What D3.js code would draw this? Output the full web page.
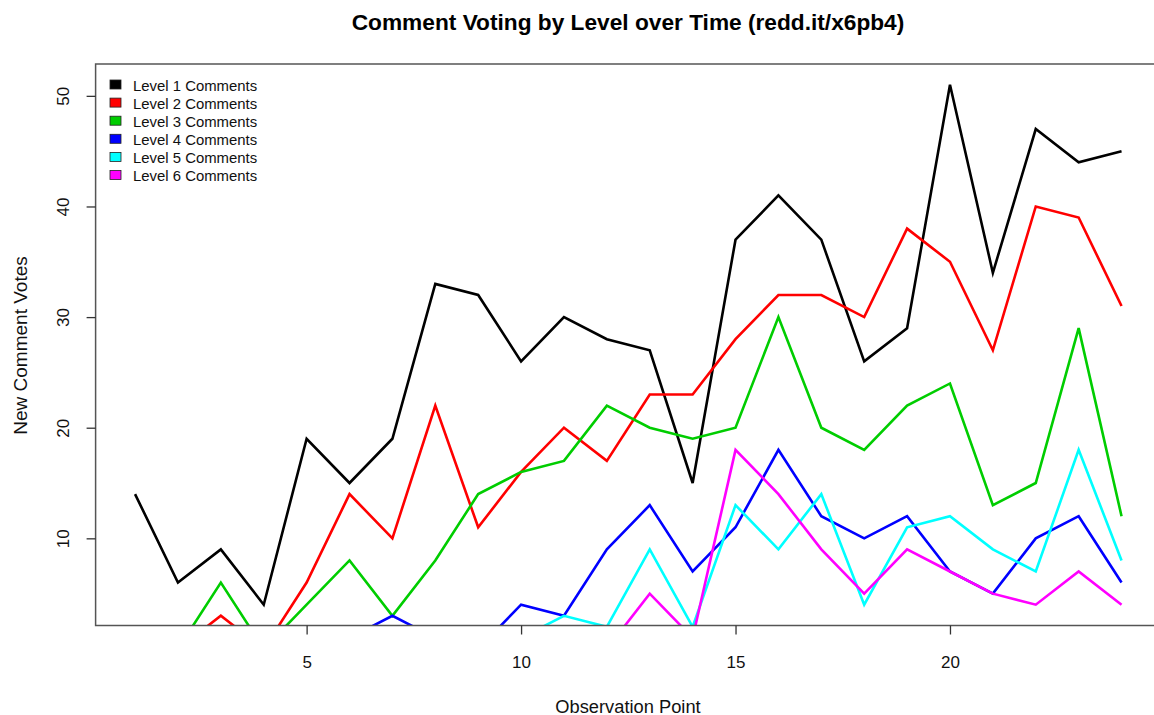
<!DOCTYPE html>
<html>
<head>
<meta charset="utf-8">
<script src="https://cdn.jsdelivr.net/npm/d3@7"></script>
<style>
  body { margin: 0; background: #fff; }
  svg { font-family: "Liberation Sans", Arial, sans-serif; display: block; }
</style>
</head>
<body>
<svg id="chart" width="1154" height="715"></svg>
<script>
// observation points 1..24
const observations = d3.range(1, 25);

const levelNames = ["Level 1 Comments", "Level 2 Comments", "Level 3 Comments",
                    "Level 4 Comments", "Level 5 Comments", "Level 6 Comments"];
const levelColors = ["#000000", "#ff0000", "#00cd00", "#0000ff", "#00ffff", "#ff00ff"];

// values (anything under the axis is clipped there anyway)
const level1 = [14, 6, 9, 4, 19, 15, 19, 33, 32, 26, 30, 28, 27, 15, 37, 41, 37, 26, 29, 51, 34, 47, 44, 45];
const level2 = [0, 0, 3, 0, 6, 14, 10, 22, 11, 16, 20, 17, 23, 23, 28, 32, 32, 30, 38, 35, 27, 40, 39, 31];
const level3 = [0, 0, 6, 0, 4, 8, 3, 8, 14, 16, 17, 22, 20, 19, 20, 30, 20, 18, 22, 24, 13, 15, 29, 12];
const level4 = [0, 0, 0, 0, 0, 1, 3, 1, 0, 4, 3, 9, 13, 7, 11, 18, 12, 10, 12, 7, 5, 10, 12, 6];
const level5 = [0, 0, 0, 0, 0, 0, 0, 0, 0, 1, 3, 2, 9, 2, 13, 9, 14, 4, 11, 12, 9, 7, 18, 8];
const level6 = [0, 0, 0, 0, 0, 0, 0, 0, 0, 0, 0, 0, 5, 1, 18, 14, 9, 5, 9, 7, 5, 4, 7, 4];

const allLevels = [level1, level2, level3, level4, level5, level6];

const xTicks = [5, 10, 15, 20];
const yTicks = [10, 20, 30, 40, 50];

// plot region (R base graphics, right edge runs past the picture)
const plotLeft = 95.6, plotRight = 1161, plotTop = 64, plotBottom = 625.5;

const svg = d3.select("#chart");

// R style 4% padding: x from range of obs, y from range of level 1
const xExt = d3.extent(observations);
const xPad = (xExt[1] - xExt[0]) * 0.04;
const yExt = d3.extent(level1);
const yPad = (yExt[1] - yExt[0]) * 0.04;

const xScale = d3.scaleLinear().domain([xExt[0] - xPad, xExt[1] + xPad]).range([plotLeft, plotRight]);
const yScale = d3.scaleLinear().domain([yExt[0] - yPad, yExt[1] + yPad]).range([plotBottom, plotTop]);

svg.append("clipPath").attr("id", "plotClip")
  .append("rect")
  .attr("x", plotLeft).attr("y", plotTop)
  .attr("width", plotRight - plotLeft).attr("height", plotBottom - plotTop);

const line = d3.line()
  .x((d, i) => xScale(observations[i]))
  .y(d => yScale(d));

const lines = svg.append("g").attr("clip-path", "url(#plotClip)");
allLevels.forEach(function (vals, k) {
  lines.append("path")
    .attr("d", line(vals))
    .attr("fill", "none")
    .attr("stroke", levelColors[k])
    .attr("stroke-width", 2.6)
    .attr("stroke-linejoin", "miter");
});

// box
svg.append("rect")
  .attr("x", plotLeft).attr("y", plotTop)
  .attr("width", plotRight - plotLeft).attr("height", plotBottom - plotTop)
  .attr("fill", "none")
  .attr("stroke", "#555")
  .attr("stroke-width", 1.5);

// x axis
const xAxis = svg.append("g")
  .attr("transform", "translate(0," + plotBottom + ")")
  .call(d3.axisBottom(xScale).tickValues(xTicks).tickSize(9).tickPadding(21).tickSizeOuter(0));
xAxis.select(".domain").remove();
xAxis.selectAll(".tick line").attr("stroke", "#333").attr("stroke-width", 1.3);
xAxis.selectAll(".tick text")
  .attr("font-size", 17).attr("fill", "#111")
  .attr("font-family", "Liberation Sans, Arial, sans-serif");

// y axis, labels rotated like R's default las=0
const yAxis = svg.append("g")
  .attr("transform", "translate(" + plotLeft + ",0)")
  .call(d3.axisLeft(yScale).tickValues(yTicks).tickSize(9).tickFormat(d => d).tickSizeOuter(0));
yAxis.select(".domain").remove();
yAxis.selectAll(".tick line").attr("stroke", "#333").attr("stroke-width", 1.3);
yAxis.selectAll(".tick text")
  .attr("font-size", 17).attr("fill", "#111")
  .attr("font-family", "Liberation Sans, Arial, sans-serif")
  .attr("x", 0).attr("dy", 0)
  .attr("text-anchor", "middle")
  .attr("transform", "translate(-27,0) rotate(-90)");

// titles
svg.append("text")
  .attr("x", 628).attr("y", 30)
  .attr("text-anchor", "middle")
  .attr("font-size", 22.7).attr("font-weight", "bold").attr("fill", "#000")
  .text("Comment Voting by Level over Time (redd.it/x6pb4)");

svg.append("text")
  .attr("x", 628).attr("y", 712.5)
  .attr("text-anchor", "middle")
  .attr("font-size", 18.3).attr("fill", "#111")
  .text("Observation Point");

svg.append("text")
  .attr("transform", "translate(27,345.5) rotate(-90)")
  .attr("text-anchor", "middle")
  .attr("font-size", 19).attr("fill", "#111")
  .text("New Comment Votes");

// legend (no box)
const legend = svg.append("g").attr("transform", "translate(110,80)");
levelNames.forEach(function (name, k) {
  const row = legend.append("g").attr("transform", "translate(0," + (k * 18.1) + ")");
  row.append("rect")
    .attr("x", 0).attr("y", 0)
    .attr("width", 11).attr("height", 9)
    .attr("fill", levelColors[k])
    .attr("stroke", "#222").attr("stroke-width", 0.8);
  row.append("text")
    .attr("x", 23).attr("y", 10.5)
    .attr("font-size", 14.9).attr("fill", "#111")
    .text(name);
});
</script>
</body>
</html>
